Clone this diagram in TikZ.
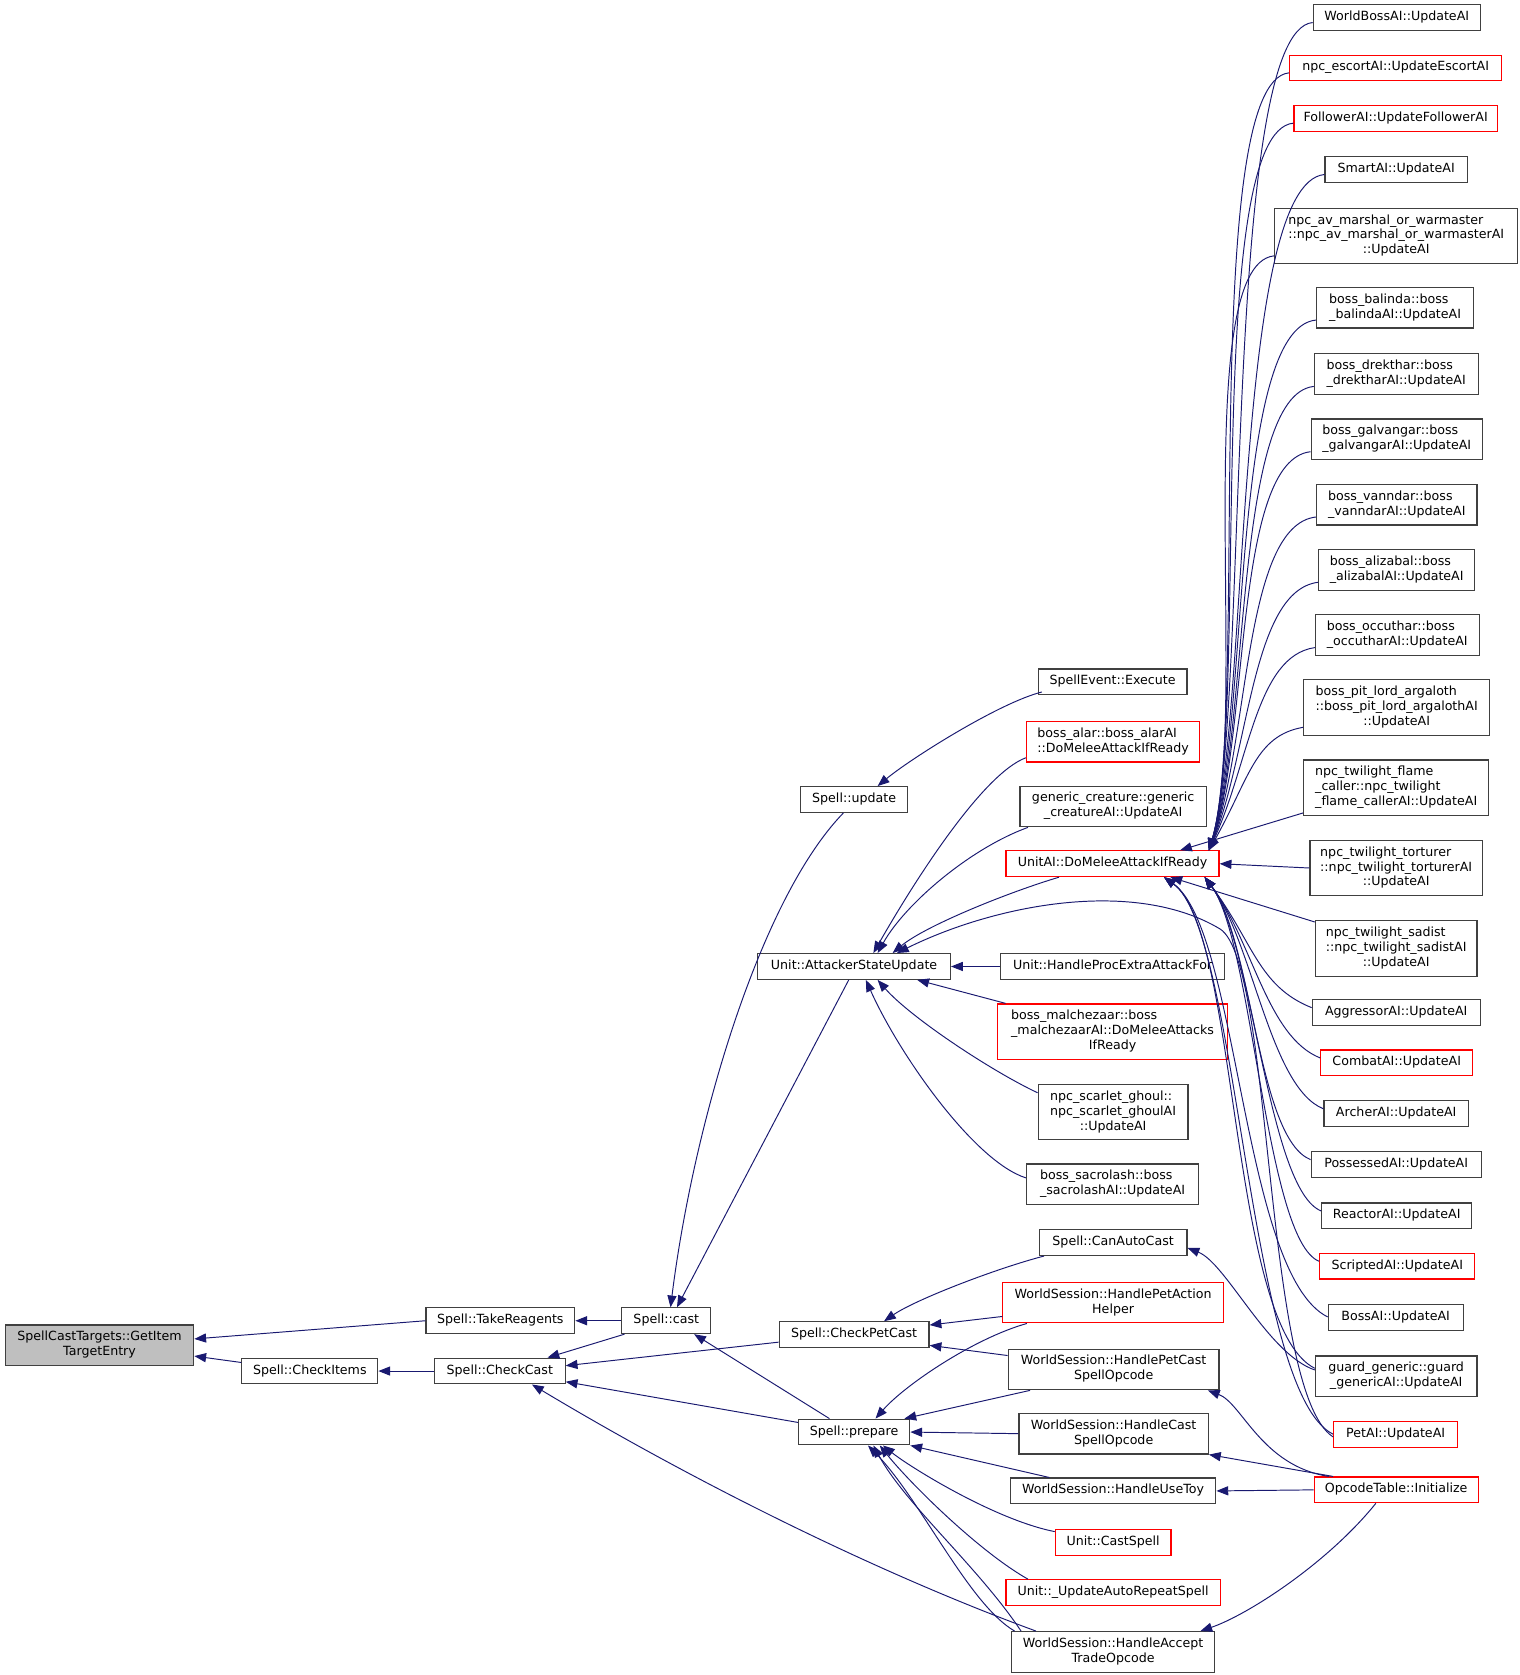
\documentclass[tikz,border=0pt]{standalone}
\usepackage{fontspec}
\setmainfont{DejaVu Sans}
\usepackage{tikz}
\usetikzlibrary{arrows.meta, positioning, calc}
\definecolor{colEdge}{HTML}{191970}
\definecolor{colBox}{HTML}{404040}
\definecolor{colRed}{HTML}{FF0000}
\definecolor{colSel}{HTML}{BFBFBF}
\newcommand{\dox}{\fontsize{11.8}{14}\selectfont}
\newcommand{\twol}[2]{\begin{tabular}{@{}l@{}}#1\\\multicolumn{1}{@{}c@{}}{#2}\end{tabular}}
\newcommand{\threel}[3]{\begin{tabular}{@{}l@{}}#1\\#2\\\multicolumn{1}{@{}c@{}}{#3}\end{tabular}}

\begin{document}
\begin{tikzpicture}[x=1pt, y=-1pt,
    fn/.style={draw=colBox, line width=1.1pt, fill=white, inner xsep=2pt, inner ysep=5pt,
        font=\dox, execute at begin node=\strut},
    fnr/.style={fn, draw=colRed},
    call/.style={draw=colEdge, line width=0.9pt, {Triangle[length=11pt,width=8.5pt]}-}]
    \fill[white] (0,0) rectangle (1420,1565);
    \useasboundingbox (0,0) rectangle (1420,1565);

    % --- Fungsi awal dan pemanggil langsung ---
    \node[fn, fill=colSel, minimum width=176pt] (getitem) at (93,1257) {\twol{SpellCastTargets::GetItem}{TargetEntry}};
    \node[fn, minimum width=139pt] (takereag) at (467.5,1234) {Spell::TakeReagents};
    \node[fn, minimum width=127pt] (checkitems) at (289.5,1281) {Spell::CheckItems};
    \node[fn, minimum width=83pt] (cast) at (622.5,1234) {Spell::cast};
    \node[fn, minimum width=122pt] (checkcast) at (467,1281) {Spell::CheckCast};

    % --- Kolom tengah ---
    \node[fn, minimum width=100pt] (update) at (798,747) {Spell::update};
    \node[fn, minimum width=180pt] (attacker) at (798,903) {Unit::AttackerStateUpdate};
    \node[fn, minimum width=140pt] (checkpetcast) at (798,1247) {Spell::CheckPetCast};
    \node[fn, minimum width=104pt] (prepare) at (798,1338) {Spell::prepare};

    % --- Kolom keempat ---
    \node[fn, minimum width=139pt] (execute) at (1039.5,637) {SpellEvent::Execute};
    \node[fnr, minimum width=162pt] (alar) at (1040,693) {\twol{boss\_alar::boss\_alarAI}{::DoMeleeAttackIfReady}};
    \node[fn, minimum width=174pt] (generic) at (1040,753.5) {\twol{generic\_creature::generic}{\_creatureAI::UpdateAI}};
    \node[fnr, minimum width=199pt] (unitai) at (1039.5,807) {UnitAI::DoMeleeAttackIfReady};
    \node[fn, minimum width=209pt] (procextra) at (1039.5,903) {Unit::HandleProcExtraAttackFor};
    \node[fnr, minimum width=215pt] (malchezaar) at (1039.5,964) {\threel{boss\_malchezaar::boss}{\_malchezaarAI::DoMeleeAttacks}{IfReady}};
    \node[fn, minimum width=140pt] (ghoul) at (1040,1039) {\threel{npc\_scarlet\_ghoul::}{npc\_scarlet\_ghoulAI}{::UpdateAI}};
    \node[fn, minimum width=161pt] (sacrolash) at (1039.5,1106.5) {\twol{boss\_sacrolash::boss}{\_sacrolashAI::UpdateAI}};
    \node[fn, minimum width=138pt] (canautocast) at (1040,1161) {Spell::CanAutoCast};
    \node[fnr, minimum width=206pt] (petaction) at (1040,1217) {\twol{WorldSession::HandlePetAction}{Helper}};
    \node[fn, minimum width=197pt] (petcast) at (1040.5,1279.5) {\twol{WorldSession::HandlePetCast}{SpellOpcode}};
    \node[fn, minimum width=177pt] (castspellop) at (1040.5,1339.5) {\twol{WorldSession::HandleCast}{SpellOpcode}};
    \node[fn, minimum width=192pt] (usetoy) at (1040,1393) {WorldSession::HandleUseToy};
    \node[fnr, minimum width=108pt] (castspell) at (1040,1441) {Unit::CastSpell};
    \node[fnr, minimum width=200pt] (autorepeat) at (1040,1488) {Unit::\_UpdateAutoRepeatSpell};
    \node[fn, minimum width=190pt] (accepttrade) at (1040,1543.5) {\twol{WorldSession::HandleAccept}{TradeOpcode}};

    % --- Kolom kanan (UpdateAI) ---
    \node[fn, minimum width=156pt] (worldboss) at (1305,16.5) {WorldBossAI::UpdateAI};
    \node[fnr, minimum width=198pt] (escort) at (1304,63.5) {npc\_escortAI::UpdateEscortAI};
    \node[fnr, minimum width=190pt] (follower) at (1304,110.5) {FollowerAI::UpdateFollowerAI};
    \node[fn, minimum width=133pt] (smart) at (1304.5,158.5) {SmartAI::UpdateAI};
    \node[fn, minimum width=227pt] (marshal) at (1304.5,220.5) {\threel{npc\_av\_marshal\_or\_warmaster}{::npc\_av\_marshal\_or\_warmasterAI}{::UpdateAI}};
    \node[fn, minimum width=147pt] (balinda) at (1303.5,287.5) {\twol{boss\_balinda::boss}{\_balindaAI::UpdateAI}};
    \node[fn, minimum width=153pt] (drekthar) at (1304.5,349.5) {\twol{boss\_drekthar::boss}{\_drektharAI::UpdateAI}};
    \node[fn, minimum width=160pt] (galvangar) at (1305,410.5) {\twol{boss\_galvangar::boss}{\_galvangarAI::UpdateAI}};
    \node[fn, minimum width=150pt] (vanndar) at (1305,471.5) {\twol{boss\_vanndar::boss}{\_vanndarAI::UpdateAI}};
    \node[fn, minimum width=146pt] (alizabal) at (1305,532.5) {\twol{boss\_alizabal::boss}{\_alizabalAI::UpdateAI}};
    \node[fn, minimum width=153pt] (occuthar) at (1305.5,593.5) {\twol{boss\_occuthar::boss}{\_occutharAI::UpdateAI}};
    \node[fn, minimum width=174pt] (pitlord) at (1305,661) {\threel{boss\_pit\_lord\_argaloth}{::boss\_pit\_lord\_argalothAI}{::UpdateAI}};
    \node[fn, minimum width=173pt] (flame) at (1304.5,736) {\threel{npc\_twilight\_flame}{\_caller::npc\_twilight}{\_flame\_callerAI::UpdateAI}};
    \node[fn, minimum width=161pt] (torturer) at (1304.5,811) {\threel{npc\_twilight\_torturer}{::npc\_twilight\_torturerAI}{::UpdateAI}};
    \node[fn, minimum width=151pt] (sadist) at (1304.5,886) {\threel{npc\_twilight\_sadist}{::npc\_twilight\_sadistAI}{::UpdateAI}};
    \node[fn, minimum width=157pt] (aggressor) at (1304.5,946) {AggressorAI::UpdateAI};
    \node[fnr, minimum width=142pt] (combat) at (1305,993) {CombatAI::UpdateAI};
    \node[fn, minimum width=135pt] (archer) at (1304.5,1040.5) {ArcherAI::UpdateAI};
    \node[fn, minimum width=159pt] (possessed) at (1304.5,1088) {PossessedAI::UpdateAI};
    \node[fn, minimum width=140pt] (reactor) at (1305,1136) {ReactorAI::UpdateAI};
    \node[fnr, minimum width=145pt] (scripted) at (1305.5,1183) {ScriptedAI::UpdateAI};
    \node[fn, minimum width=126pt] (bossai) at (1304,1231) {BossAI::UpdateAI};
    \node[fn, minimum width=151pt] (guard) at (1304.5,1286) {\twol{guard\_generic::guard}{\_genericAI::UpdateAI}};
    \node[fnr, minimum width=116pt] (petai) at (1304,1340.5) {PetAI::UpdateAI};
    \node[fnr, minimum width=153pt] (opcode) at (1304.5,1392) {OpcodeTable::Initialize};

    % --- Panah pemanggil (kepala panah di fungsi yang dipanggil) ---
    \draw[call] ([yshift=6pt]getitem.east) -- (takereag.west);
    \draw[call] ([yshift=-10pt]getitem.east) -- ([yshift=8pt]checkitems.west);
    \draw[call] (takereag.east) -- (cast.west);
    \draw[call] (checkitems.east) -- (checkcast.west);
    \draw[call] ([xshift=-17pt]checkcast.north east) -- ([xshift=3pt]cast.south west);
    \draw[call] ([xshift=4pt]cast.north) .. controls (648,1050) and (710,840) .. ([xshift=-10pt]update.south);
    \draw[call] ([xshift=10pt]cast.north) -- ([xshift=-5pt]attacker.south);
    \draw[call] ([xshift=-16pt]cast.south east) -- ([xshift=-23pt]prepare.north);
    \draw[call] ([yshift=5pt]checkcast.east) -- ([yshift=-7pt]checkpetcast.west);
    \draw[call] ([yshift=-10pt]checkcast.east) -- ([yshift=9pt]prepare.west);
    \draw[call] ([xshift=30pt]checkcast.south) .. controls +(150,90) and +(-150,-55) .. ([xshift=-72pt]accepttrade.north);

    \draw[call] ([xshift=22pt]update.north) .. controls +(30,-25) and +(-40,10) .. ([xshift=4pt,yshift=3pt]execute.south west);

    \draw[call] ([xshift=18pt]attacker.north) .. controls +(40,-70) and +(-40,15) .. ([yshift=-15pt]alar.west);
    \draw[call] ([xshift=22pt]attacker.north) .. controls +(25,-45) and +(-55,20) .. ([xshift=8pt]generic.south west);
    \draw[call] ([xshift=36pt]attacker.north) .. controls +(30,-25) and +(-50,15) .. ([xshift=-50pt]unitai.south);
    \draw[call] ([xshift=40pt]attacker.north) .. controls (930,845) and (1060,820) .. (1140,868)
        .. controls (1190,900) and (1180,1300) .. ([yshift=-2pt]petai.west);
    \draw[call] (attacker.east) -- (procextra.west);
    \draw[call] ([xshift=59pt]attacker.south) -- ([xshift=8pt]malchezaar.north west);
    \draw[call] ([xshift=22pt]attacker.south) .. controls (850,950) and (925,1000) .. ([yshift=18pt]ghoul.west);
    \draw[call] ([xshift=11pt]attacker.south) .. controls (840,985) and (910,1085) .. ([yshift=6pt]sacrolash.west);

    \draw[call] ([xshift=28pt]checkpetcast.north) .. controls +(29,-20) and +(-46,12) .. ([xshift=5pt]canautocast.south west);
    \draw[call] ([yshift=9pt]checkpetcast.east) -- ([yshift=-13pt]petaction.west);
    \draw[call] ([yshift=-10pt]checkpetcast.east) -- ([yshift=13pt]petcast.west);

    \draw[call] ([xshift=20pt]prepare.north) .. controls +(27,-31) and +(-50,14) .. ([xshift=23pt]petaction.south west);
    \draw[call] ([xshift=47pt]prepare.north) -- ([xshift=21pt]petcast.south west);
    \draw[call] (prepare.east) -- (castspellop.west);
    \draw[call] (prepare.south east) -- ([xshift=37pt]usetoy.north west);
    \draw[call] ([xshift=27pt]prepare.south) .. controls +(25,20) and +(-56,-11) .. ([yshift=10pt]castspell.west);
    \draw[call] ([xshift=24pt]prepare.south) .. controls +(28,35) and +(-46,-26) .. ([xshift=21pt]autorepeat.north west);
    \draw[call] ([xshift=13pt]prepare.south) .. controls +(49,50) and +(-43,-25) .. ([xshift=-92pt]accepttrade.north);
    \draw[call] ([xshift=18pt]prepare.south) .. controls +(30,55) and +(-40,-60) .. ([xshift=-86pt]accepttrade.north);

    \draw[call] ([xshift=-11pt]petcast.south east) .. controls +(32,12) and +(-63,-10) .. ([xshift=14pt]opcode.north west);
    \draw[call] (castspellop.south east) -- ([xshift=18pt]opcode.north west);
    \draw[call] (usetoy.east) -- (opcode.west);
    \draw[call] ([xshift=-14pt]accepttrade.north east) .. controls +(44,-15) and +(-45,56) .. ([xshift=-19pt]opcode.south);
    \draw[call] ([yshift=-5pt]canautocast.east) .. controls +(36,14) and +(-44,-15) .. ([yshift=6pt]guard.west);

    % --- Berkas panah ke UnitAI::DoMeleeAttackIfReady ---
    \draw[call] ([xshift=-37pt]unitai.north east) -- ([yshift=3pt]flame.south west);
    \draw[call] (unitai.east) -- (torturer.west);
    \draw[call] ([xshift=-46pt]unitai.south east) -- ([yshift=-2pt]sadist.north west);
    \foreach \n/\d in {worldboss/85, escort/85, follower/85, smart/85, marshal/80, balinda/80,
                       drekthar/75, galvangar/72, vanndar/68, alizabal/62, occuthar/55, pitlord/45}
        \draw[call] ([xshift=-10pt]unitai.north east) .. controls +(38,-1.5*\d) and +(-\d,8) .. ([yshift=8pt]\n.south west);
    \foreach \n in {aggressor, combat, archer, possessed, reactor, scripted}
        \draw[call] ([xshift=-14pt]unitai.south east) .. controls +(45,60) and +(-50,-20) .. ([yshift=-8pt]\n.north west);
    \foreach \n in {bossai, guard, petai}
        \draw[call] ([xshift=-52pt]unitai.south east) .. controls +(70,50) and +(-80,-40) .. ([yshift=-12pt]\n.north west);
\end{tikzpicture}
\end{document}
